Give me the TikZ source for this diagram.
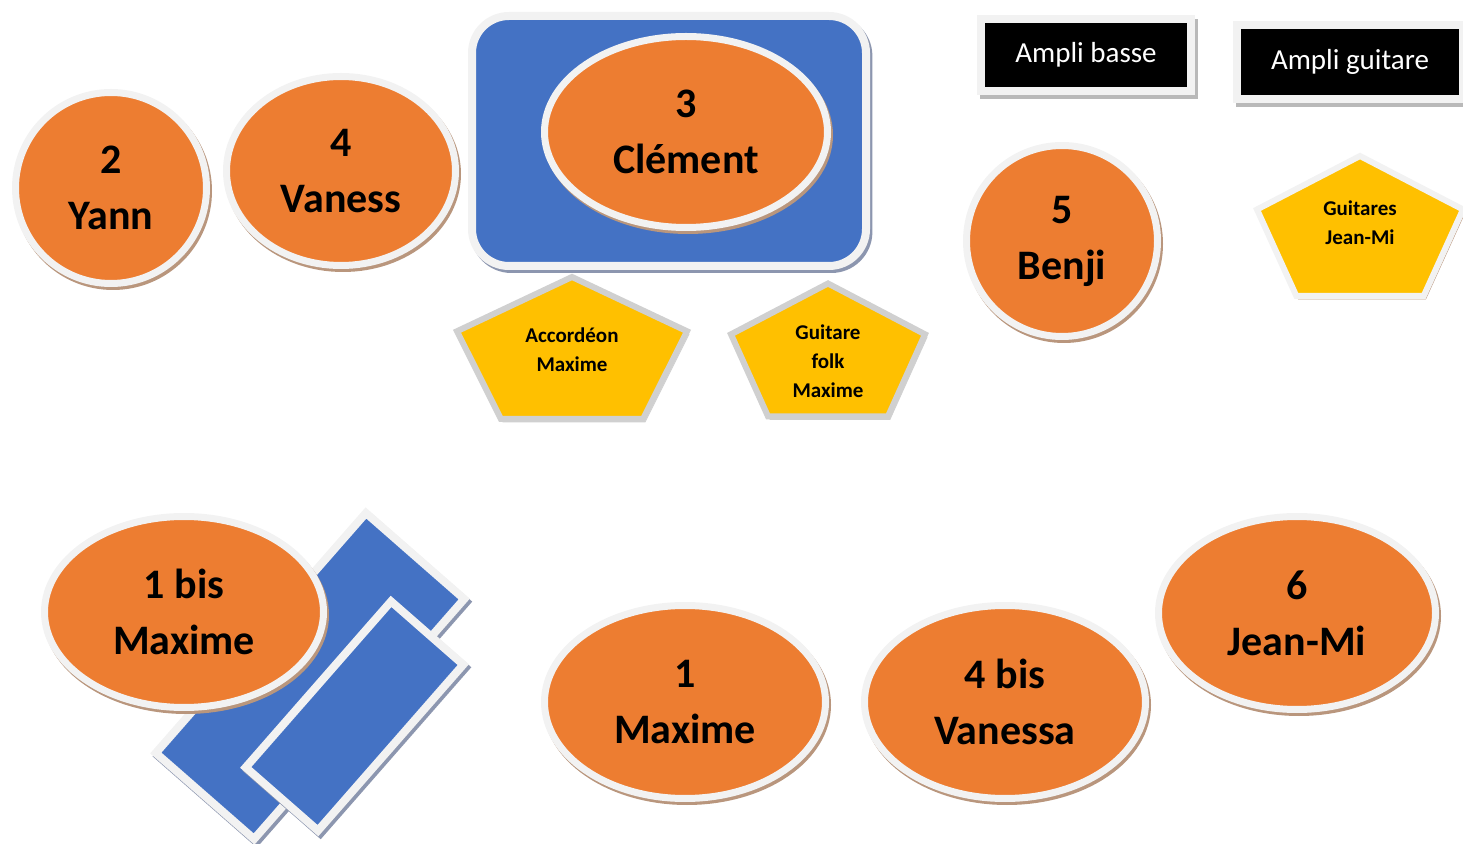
\documentclass[tikz,border=0pt]{standalone}
\usepackage{fontspec}
\setmainfont{Carlito}
\usetikzlibrary{shapes.geometric}
\definecolor{seatOrange}{HTML}{ED7D31}
\definecolor{riserBlue}{HTML}{4472C4}
\definecolor{padYellow}{HTML}{FFC000}
\definecolor{ringWhite}{HTML}{F2F2F2}
\definecolor{padGray}{RGB}{208,208,208}
\definecolor{seatShadow}{RGB}{185,150,125}
\definecolor{riserShadow}{RGB}{140,150,175}
\definecolor{ampShadow}{RGB}{185,185,185}

\begin{document}
\begin{tikzpicture}
[x=0.5pt,y=-0.5pt,
  seatDecorate/.style={shape=ellipse,inner sep=0pt,draw=ringWhite,line width=3.5pt,
    fill=seatOrange,align=center,font=\fontsize{21}{28}\selectfont\bfseries,
    preaction={draw=seatShadow,fill=seatShadow,transform canvas={xshift=1pt,yshift=-1.5pt}}},
  riserDecorate/.style={shape=rectangle,inner sep=0pt,draw=ringWhite,line width=4pt,
    fill=riserBlue,
    preaction={draw=riserShadow,fill=riserShadow,transform canvas={xshift=1.2pt,yshift=-1.5pt}}},
  padDecorate/.style={line width=3pt,fill=padYellow},
  padText/.style={align=center,font=\fontsize{10.5}{14.5}\selectfont\bfseries},
  ampDecorate/.style={shape=rectangle,inner sep=0pt,draw=ringWhite,line width=4pt,
    fill=black,text=white,font=\fontsize{14.5}{17}\selectfont,
    preaction={draw=ampShadow,fill=ampShadow,transform canvas={xshift=1.5pt,yshift=-2pt}}}]
\useasboundingbox (0,0) rectangle (1463,844);
%% riser and platforms
\node (riser) at (669,141) [riserDecorate,rounded corners=18.5pt,
  minimum width=197pt,minimum height=125pt] {};
\foreach \platname/\x/\y/\w/\h in {
  platback/310/676/159.5/65.3,
  platfront/354.5/716/110.3/48}
{
  \node (\platname) at (\x,\y) [riserDecorate,rotate=48.8,
    minimum width=\w pt,minimum height=\h pt] {};
}
%% musicians
\foreach \seatname/\x/\y/\w/\h/\seattext in {
  yann/111/188/95.5/95.5/{2\\Yann},
  vaness/341/171/114.5/94.5/{4\\Vaness},
  clement/686/132/141.5/95.5/{3\\Clément},
  benji/1062/241/95.5/95.5/{5\\Benji},
  maximebis/184/612/139.5/95.5/{1 bis\\Maxime},
  maxime/685/702/140.5/96.5/{1\\Maxime},
  vanessa/1005/702/140.5/96.5/{4 bis\\Vanessa},
  jeanmi/1297/613/138.5/96.5/{6\\Jean-Mi}}
{
  \node (\seatname) at (\x,\y) [seatDecorate,minimum width=\w pt,minimum height=\h pt] {\seattext};
}
%% instruments
\foreach \padname/\x/\y/\w/\h/\ring/\padshadow/\ty/\padtext in {
  accordeon/572/348/230/142/padGray/padGray/350/{Accordéon\\Maxime},
  folk/828/350/194/133/padGray/padGray/361/{Guitare\\folk\\Maxime},
  guitares/1360/226/206/140/ringWhite/seatShadow/223/{Guitares\\Jean-Mi}}
{
  \draw[padDecorate,draw=\ring,
    preaction={draw=\padshadow,transform canvas={xshift=1pt,yshift=-1.5pt}}]
    (\x,{\y-0.5*\h}) -- ({\x+0.5*\w},{\y-0.118*\h}) -- ({\x+0.309*\w},{\y+0.5*\h})
    -- ({\x-0.309*\w},{\y+0.5*\h}) -- ({\x-0.5*\w},{\y-0.118*\h}) -- cycle;
  \node (\padname) at (\x,\ty) [padText] {\padtext};
}
%% amplifiers
\foreach \ampname/\x/\y/\w/\h/\amptext in {
  amplibasse/1086/55/105/36/{Ampli basse},
  ampliguitare/1350/62/113/37/{Ampli guitare}}
{
  \node (\ampname) at (\x,\y) [ampDecorate,minimum width=\w pt,minimum height=\h pt] {\amptext};
}
\end{tikzpicture}
\end{document}
